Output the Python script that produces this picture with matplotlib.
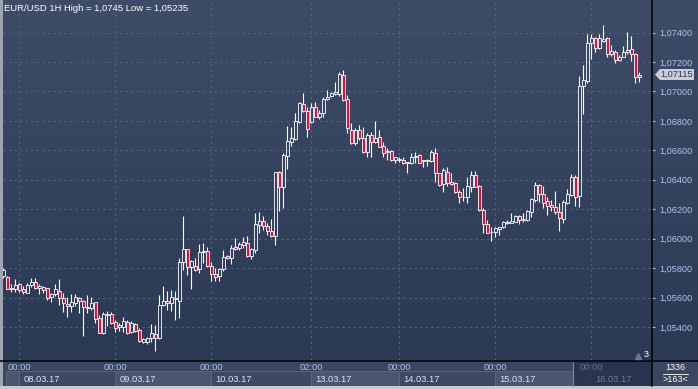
import numpy as np
import matplotlib
matplotlib.use("Agg")
import matplotlib.pyplot as plt
from matplotlib.colors import LinearSegmentedColormap
from matplotlib.patches import Rectangle, Polygon

plt.rcParams['font.family'] = ['Liberation Sans', 'DejaVu Sans']

symbol = "EUR/USD"
period = "1H"

# hourly candles
opens = [1.05747, 1.05738, 1.05667, 1.05658, 1.05690, 1.05656, 1.05633, 1.05688, 1.05704, 1.05663,
         1.05674, 1.05663, 1.05606, 1.05622, 1.05647, 1.05595, 1.05557, 1.05545, 1.05565, 1.05595,
         1.05577, 1.05538, 1.05527, 1.05572, 1.05459, 1.05358, 1.05484, 1.05487, 1.05432, 1.05402,
         1.05398, 1.05436, 1.05369, 1.05421, 1.05380, 1.05301, 1.05301, 1.05324, 1.05353, 1.05324,
         1.05550, 1.05577, 1.05561, 1.05599, 1.05579, 1.05842, 1.05930, 1.05810, 1.05815, 1.05792,
         1.05912, 1.05916, 1.05815, 1.05758, 1.05747, 1.05792, 1.05883, 1.05867, 1.05942, 1.05935,
         1.05957, 1.05973, 1.05883, 1.05923, 1.06093, 1.06122, 1.06088, 1.06054, 1.06020, 1.06451,
         1.06349, 1.06564, 1.06659, 1.06677, 1.06790, 1.06915, 1.06869, 1.06794, 1.06892, 1.06826,
         1.06851, 1.06947, 1.06969, 1.06982, 1.06980, 1.07111, 1.06947, 1.06738, 1.06648, 1.06738,
         1.06682, 1.06591, 1.06704, 1.06659, 1.06688, 1.06629, 1.06591, 1.06597, 1.06534, 1.06539,
         1.06534, 1.06519, 1.06512, 1.06557, 1.06568, 1.06534, 1.06528, 1.06530, 1.06580, 1.06444,
         1.06371, 1.06455, 1.06387, 1.06376, 1.06315, 1.06283, 1.06281, 1.06353, 1.06432, 1.06358,
         1.06195, 1.06100, 1.06045, 1.06048, 1.06068, 1.06077, 1.06105, 1.06109, 1.06115, 1.06154,
         1.06127, 1.06127, 1.06183, 1.06263, 1.06365, 1.06303, 1.06256, 1.06229, 1.06213, 1.06179,
         1.06134, 1.06244, 1.06297, 1.06421, 1.06292, 1.07037, 1.07073, 1.07327, 1.07361, 1.07293,
         1.07344, 1.07361, 1.07252, 1.07270, 1.07213, 1.07236, 1.07266, 1.07286, 1.07254, 1.07096]

highs = [1.05801, 1.05747, 1.05690, 1.05724, 1.05697, 1.05679, 1.05697, 1.05735, 1.05731, 1.05692,
         1.05681, 1.05663, 1.05633, 1.05690, 1.05724, 1.05629, 1.05606, 1.05624, 1.05624, 1.05606,
         1.05584, 1.05618, 1.05606, 1.05572, 1.05482, 1.05504, 1.05509, 1.05504, 1.05448, 1.05426,
         1.05470, 1.05448, 1.05443, 1.05430, 1.05392, 1.05324, 1.05330, 1.05421, 1.05414, 1.05618,
         1.05679, 1.05645, 1.05652, 1.05647, 1.05869, 1.06154, 1.05930, 1.05855, 1.05867, 1.05964,
         1.05969, 1.05942, 1.05844, 1.05799, 1.05799, 1.05923, 1.05889, 1.05957, 1.06003, 1.05980,
         1.06014, 1.06018, 1.05935, 1.06177, 1.06183, 1.06154, 1.06109, 1.06132, 1.06455, 1.06462,
         1.06580, 1.06767, 1.06760, 1.06851, 1.06926, 1.06991, 1.06896, 1.06923, 1.06930, 1.06874,
         1.06964, 1.07010, 1.06996, 1.07066, 1.07134, 1.07145, 1.06976, 1.06788, 1.06750, 1.06772,
         1.06760, 1.06718, 1.06727, 1.06799, 1.06738, 1.06659, 1.06614, 1.06602, 1.06557, 1.06557,
         1.06557, 1.06523, 1.06580, 1.06587, 1.06573, 1.06534, 1.06539, 1.06602, 1.06614, 1.06448,
         1.06478, 1.06489, 1.06444, 1.06387, 1.06331, 1.06342, 1.06421, 1.06460, 1.06460, 1.06365,
         1.06206, 1.06127, 1.06077, 1.06081, 1.06081, 1.06122, 1.06127, 1.06177, 1.06161, 1.06161,
         1.06177, 1.06195, 1.06274, 1.06383, 1.06369, 1.06358, 1.06285, 1.06263, 1.06324, 1.06240,
         1.06263, 1.06335, 1.06439, 1.06432, 1.07105, 1.07179, 1.07390, 1.07390, 1.07367, 1.07390,
         1.07450, 1.07367, 1.07315, 1.07281, 1.07247, 1.07308, 1.07401, 1.07376, 1.07259, 1.07130]

lows = [1.05733, 1.05655, 1.05640, 1.05640, 1.05640, 1.05624, 1.05629, 1.05670, 1.05658, 1.05622,
        1.05629, 1.05584, 1.05572, 1.05613, 1.05550, 1.05504, 1.05470, 1.05504, 1.05543, 1.05493,
        1.05339, 1.05493, 1.05516, 1.05426, 1.05358, 1.05353, 1.05407, 1.05421, 1.05369, 1.05373,
        1.05369, 1.05353, 1.05358, 1.05369, 1.05301, 1.05294, 1.05285, 1.05301, 1.05235, 1.05317,
        1.05543, 1.05516, 1.05511, 1.05448, 1.05462, 1.05787, 1.05753, 1.05658, 1.05783, 1.05769,
        1.05833, 1.05810, 1.05715, 1.05715, 1.05715, 1.05783, 1.05860, 1.05828, 1.05923, 1.05923,
        1.05935, 1.05878, 1.05862, 1.05905, 1.06041, 1.06059, 1.06025, 1.06014, 1.05957, 1.06190,
        1.06206, 1.06473, 1.06629, 1.06670, 1.06784, 1.06858, 1.06693, 1.06784, 1.06824, 1.06811,
        1.06828, 1.06942, 1.06962, 1.06976, 1.06969, 1.06935, 1.06716, 1.06643, 1.06636, 1.06670,
        1.06584, 1.06557, 1.06553, 1.06652, 1.06621, 1.06557, 1.06534, 1.06530, 1.06512, 1.06523,
        1.06507, 1.06448, 1.06507, 1.06516, 1.06512, 1.06489, 1.06494, 1.06523, 1.06387, 1.06360,
        1.06319, 1.06358, 1.06365, 1.06308, 1.06240, 1.06258, 1.06244, 1.06319, 1.06349, 1.06190,
        1.06037, 1.06037, 1.05986, 1.06014, 1.06025, 1.06071, 1.06100, 1.06105, 1.06111, 1.06100,
        1.06115, 1.06122, 1.06149, 1.06251, 1.06251, 1.06206, 1.06161, 1.06190, 1.06166, 1.06054,
        1.06109, 1.06236, 1.06290, 1.06222, 1.06213, 1.06845, 1.07055, 1.07218, 1.07270, 1.07286,
        1.07338, 1.07232, 1.07241, 1.07191, 1.07209, 1.07232, 1.07254, 1.07209, 1.07055, 1.07062]

closes = [1.05787, 1.05658, 1.05656, 1.05686, 1.05652, 1.05640, 1.05686, 1.05704, 1.05667, 1.05679,
          1.05652, 1.05599, 1.05622, 1.05656, 1.05599, 1.05561, 1.05545, 1.05568, 1.05602, 1.05577,
          1.05534, 1.05531, 1.05565, 1.05455, 1.05362, 1.05487, 1.05489, 1.05430, 1.05392, 1.05414,
          1.05441, 1.05362, 1.05430, 1.05375, 1.05307, 1.05317, 1.05324, 1.05358, 1.05324, 1.05550,
          1.05577, 1.05561, 1.05606, 1.05589, 1.05842, 1.05930, 1.05810, 1.05849, 1.05787, 1.05908,
          1.05918, 1.05815, 1.05760, 1.05742, 1.05792, 1.05874, 1.05867, 1.05935, 1.05930, 1.05964,
          1.05976, 1.05885, 1.05928, 1.06100, 1.06120, 1.06088, 1.06054, 1.06020, 1.06451, 1.06349,
          1.06568, 1.06663, 1.06686, 1.06799, 1.06919, 1.06867, 1.06743, 1.06892, 1.06828, 1.06851,
          1.06947, 1.06964, 1.06987, 1.06994, 1.07118, 1.06942, 1.06750, 1.06648, 1.06738, 1.06682,
          1.06591, 1.06704, 1.06659, 1.06686, 1.06625, 1.06584, 1.06597, 1.06534, 1.06553, 1.06532,
          1.06512, 1.06514, 1.06557, 1.06564, 1.06516, 1.06528, 1.06534, 1.06587, 1.06444, 1.06365,
          1.06466, 1.06380, 1.06371, 1.06315, 1.06281, 1.06281, 1.06358, 1.06432, 1.06353, 1.06195,
          1.06100, 1.06041, 1.06043, 1.06071, 1.06077, 1.06111, 1.06115, 1.06120, 1.06154, 1.06127,
          1.06134, 1.06190, 1.06270, 1.06365, 1.06303, 1.06244, 1.06224, 1.06217, 1.06179, 1.06138,
          1.06251, 1.06303, 1.06421, 1.06285, 1.07037, 1.07078, 1.07327, 1.07361, 1.07293, 1.07361,
          1.07354, 1.07252, 1.07274, 1.07213, 1.07236, 1.07270, 1.07281, 1.07254, 1.07096, 1.07115]

# time axis: candle index of each day start, and its labels
tick_idx = [4, 28, 52, 77, 99, 123, 147]
tick_times = ["00:00", "00:00", "00:00", "02:00", "00:00", "00:00", "00:00"]
tick_dates = ["08.03.17", "09.03.17", "10.03.17", "13.03.17", "14.03.17", "15.03.17", "16.03.17"]
price_ticks = [1.054, 1.056, 1.058, 1.060, 1.062, 1.064, 1.066, 1.068, 1.070, 1.072, 1.074]
bars_total = 1336
bars_visible = 163
pending = 3


def fmt(v, nd=5):
    return f"{v:.{nd}f}".replace(".", ",")


W, H = 698, 389
fig = plt.figure(figsize=(W / 100, H / 100), dpi=100)
fig.patch.set_facecolor('#3b4761')

# gradient behind plot + price scale
bg = fig.add_axes([0, 1 - 360 / H, 1, 360 / H])
bg.axis('off')
grad = np.linspace(0, 1, 256).reshape(-1, 1)
cmap = LinearSegmentedColormap.from_list('bg', ['#3f4c68', '#2c3955'])
bg.imshow(grad, aspect='auto', cmap=cmap, extent=[0, 1, 0, 1])

ax = fig.add_axes([3 / W, 1 - 360 / H, 649 / W, 360 / H])
ax.patch.set_alpha(0)

o = np.array(opens)
h = np.array(highs)
l = np.array(lows)
c = np.array(closes)
x = np.arange(len(o))
top = np.maximum(o, c)
bot = np.minimum(o, c)
face = ['none' if cc >= oo else '#e0103a' for oo, cc in zip(o, c)]

ax.vlines(x, top, np.maximum(h, top), color='white', lw=0.8, zorder=3)
ax.vlines(x, np.minimum(l, bot), bot, color='white', lw=0.8, zorder=3)
ax.bar(x, top - bot, bottom=bot, width=0.72, color=face, edgecolor='white',
       linewidth=0.6, zorder=4)

ax.set_xlim(-0.1, 162.2)
ax.set_ylim(1.05176, 1.07621)
ax.set_xticks(tick_idx)
ax.set_yticks(price_ticks)
ax.set_yticklabels([fmt(v) for v in price_ticks])
ax.set_axisbelow(True)
ax.grid(True, color='#56637e', ls=(0, (2, 3)), lw=0.8)
ax.tick_params(axis='x', length=0, labelbottom=False)
ax.yaxis.tick_right()
ax.tick_params(axis='y', length=2, color='#a8c4ec', labelsize=6.6,
               labelcolor='#a9c6ee', pad=3)
for s in ['top', 'left', 'bottom']:
    ax.spines[s].set_visible(False)
ax.spines['right'].set_color('black')
ax.spines['right'].set_linewidth(1.1)

# overlay in pixel coordinates for the frame and the time scale
deco = fig.add_axes([0, 0, 1, 1], zorder=5)
deco.set_xlim(0, W)
deco.set_ylim(H, 0)
deco.axis('off')
deco.patch.set_alpha(0)


def px_x(i):
    return ax.transData.transform((i, 1.06))[0]


def px_y(v):
    return H - ax.transData.transform((0, v))[1]


deco.add_patch(Rectangle((0, 360), W, 29, fc='#3b4761', ec='none'))
deco.plot([0, W], [360.5, 360.5], color='black', lw=1.1)

# date boxes
edges = [6] + [px_x(i) for i in tick_idx] + [652]
for k in range(len(edges) - 1):
    fc = '#4a5670' if k % 2 == 0 else '#3d4963'
    deco.add_patch(Rectangle((edges[k], 371), edges[k + 1] - edges[k], 15,
                             fc=fc, ec='#5c6882', lw=0.6))

# current day shaded
deco.add_patch(Rectangle((573, 361), 652 - 573, 25, fc='#25304a', ec='none', alpha=0.85))
deco.plot([573, 573], [362, 386], color='#7d879b', lw=0.8)

for i, t, d in zip(tick_idx, tick_times, tick_dates):
    xp = px_x(i)
    dim = xp > 573
    deco.text(xp, 367.5, t, ha='center', va='center', fontsize=6.7,
              color='#66738e' if dim else '#a6c4ee')
    deco.text(xp + 4, 379, d, ha='left', va='center', fontsize=6.7,
              color='#6f7c97' if dim else '#dfe4ec')

# frame strips
deco.add_patch(Rectangle((0, 0), 3, H, fc='#9ea5b0', ec='none'))
deco.add_patch(Rectangle((0, 386), W, 3, fc='#c5c9d1', ec='none'))
deco.plot([652, 652], [360, 386], color='black', lw=1.1)

# bar counter box
deco.text(675, 367.5, str(bars_total), ha='center', va='center', fontsize=6.5, color='white')
deco.plot([663, 688], [373.5, 373.5], color='white', lw=0.6)
deco.text(675, 380, f">{bars_visible}<", ha='center', va='center', fontsize=6.5, color='white')

deco.plot([638], [355.5], marker='^', ms=4, color='#6e7a94', lw=0)
deco.text(646, 354.5, str(pending), ha='center', va='center', fontsize=6.5, color='white')

# last price tag
yt = px_y(closes[-1])
deco.add_patch(Polygon([(655, yt), (660, yt - 5.5), (694, yt - 5.5), (694, yt + 5.5), (660, yt + 5.5)],
                       closed=True, fc='#c9cdd6', ec='none'))
deco.text(677, yt, fmt(closes[-1]), ha='center', va='center', fontsize=6.6, color='#2d3a56')

title = (f"{symbol} {period} High = {format(max(highs), 'g').replace('.', ',')} "
         f"Low = {format(min(lows), 'g').replace('.', ',')}")
deco.text(3.5, 8.5, title, ha='left', va='center', fontsize=6.8, color='white')

fig.savefig('out.png', dpi=100, facecolor=fig.get_facecolor())
